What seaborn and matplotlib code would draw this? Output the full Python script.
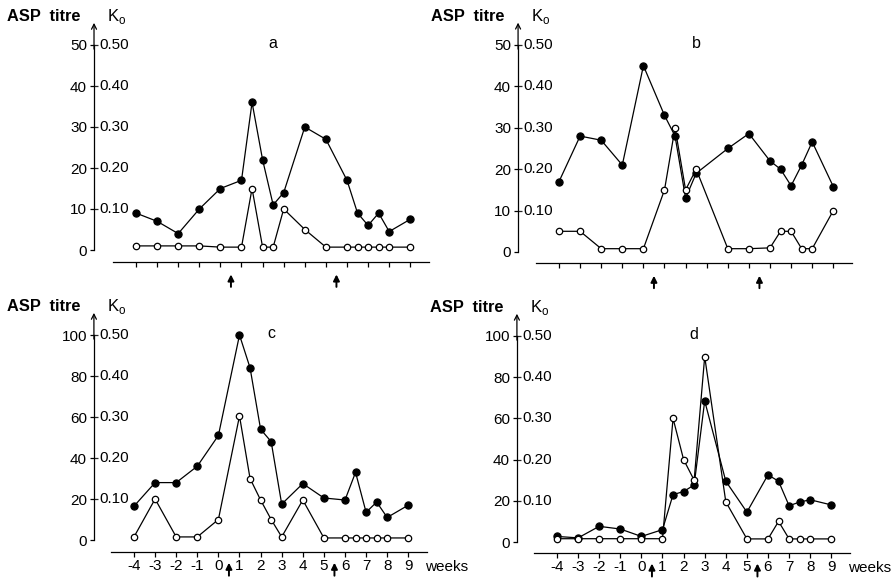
import numpy as np
import pandas as pd
import matplotlib
matplotlib.use("Agg")
import matplotlib.pyplot as plt
import seaborn as sns
from matplotlib.ticker import FixedLocator

sns.set_theme(style="white")
plt.rcParams['font.family'] = ['Liberation Sans', 'DejaVu Sans']
plt.rcParams['axes.unicode_minus'] = False
plt.rcParams['mathtext.fontset'] = 'custom'
plt.rcParams['mathtext.rm'] = 'Liberation Sans'

# ---------------- data ----------------
weeks_a = [-4, -3, -2, -1, 0, 1, 1.5, 2, 2.5, 3, 4, 5, 6, 6.5, 7, 7.5, 8, 9]
filled_a = [9, 7, 4, 10, 15, 17, 36, 22, 11, 14, 30, 27, 17, 9, 6, 9, 4.5, 7.5]
open_a = [1, 1, 1, 1, 0.7, 0.7, 15, 0.7, 0.7, 10, 5, 0.7, 0.7, 0.7, 0.7, 0.7, 0.7, 0.7]

weeks_b = [-4, -3, -2, -1, 0, 1, 1.5, 2, 2.5, 4, 5, 6, 6.5, 7, 7.5, 8, 9]
filled_b = [17, 28, 27, 21, 45, 33, 28, 13, 19, 25, 28.6, 22, 20, 16, 21, 26.6, 15.8]
open_b = [5, 5, 0.8, 0.8, 0.8, 15, 30, 15, 20, 0.8, 0.8, 1, 5, 5, 0.8, 0.8, 10]

weeks_c = [-4, -3, -2, -1, 0, 1, 1.5, 2, 2.5, 3, 4, 5, 6, 6.5, 7, 7.5, 8, 9]
filled_c = [16.5, 28, 28, 36, 51, 100, 84, 54, 48, 17.5, 27.5, 20.5, 19.5, 33, 13.5, 18.5, 11, 17]
open_c = [1.5, 20, 1.5, 1.5, 10, 60.5, 30, 19.5, 10, 1.5, 19.5, 1, 1, 1, 1, 1, 1, 1]

weeks_d = [-4, -3, -2, -1, 0, 1, 1.5, 2, 2.5, 3, 4, 5, 6, 6.5, 7, 7.5, 8, 9]
filled_d = [2.7, 2, 7.6, 6.3, 2.7, 6, 23, 24.5, 27.7, 68.5, 29.5, 14.5, 32.6, 29.5, 17.6, 19.4, 20.5, 18]
open_d = [1.6, 1.6, 1.6, 1.6, 1.6, 1.6, 60, 40, 30, 90, 19.5, 1.5, 1.5, 10, 1.5, 1.5, 1.5, 1.5]

titre_ticks_ab = [0, 10, 20, 30, 40, 50]
titre_ticks_cd = [0, 20, 40, 60, 80, 100]
ko_labels = ["0.10", "0.20", "0.30", "0.40", "0.50"]
week_ticks = [-4, -3, -2, -1, 0, 1, 2, 3, 4, 5, 6, 7, 8, 9]
week_labels = ["-4", "-3", "-2", "-1", "0", "1", "2", "3", "4", "5", "6", "7", "8", "9"]
arrow_weeks = [0.5, 5.5]
panel_names = ["a", "b", "c", "d"]

# ---------------- layout ----------------
W, H = 895, 582
fig = plt.figure(figsize=(W / 100, H / 100), dpi=100)
fig.patch.set_facecolor("white")
PPW = 21.1
FS = 10.5

def make_axes(x_m4, y0, ppu, ylim, xlim=(-7.0, 10.6)):
    left = x_m4 + PPW * (xlim[0] + 4)
    right = x_m4 + PPW * (xlim[1] + 4)
    bottom = y0 - ppu * ylim[0]
    top = y0 - ppu * ylim[1]
    ax = fig.add_axes([left / W, 1 - bottom / H, (right - left) / W, (bottom - top) / H])
    ax.set_xlim(*xlim)
    ax.set_ylim(*ylim)
    ax.set_facecolor("none")
    return ax

panels = [
    dict(x_m4=136, y0=250, ppu=4.1, top=50, ticks=titre_ticks_ab, weeks=weeks_a, f=filled_a, o=open_a,
         vx=-5.99, hy=-2.9, labels=False),
    dict(x_m4=559, y0=252, ppu=4.14, top=50, ticks=titre_ticks_ab, weeks=weeks_b, f=filled_b, o=open_b,
         vx=-5.94, hy=-2.7, labels=False),
    dict(x_m4=134, y0=540, ppu=2.05, top=100, ticks=titre_ticks_cd, weeks=weeks_c, f=filled_c, o=open_c,
         vx=-5.9, hy=-5.9, labels=True),
    dict(x_m4=557, y0=542, ppu=2.06, top=100, ticks=titre_ticks_cd, weeks=weeks_d, f=filled_d, o=open_d,
         vx=-5.9, hy=-5.3, labels=True),
]

for name, p in zip(panel_names, panels):
    top = p["top"]
    ax = make_axes(p["x_m4"], p["y0"], p["ppu"], ylim=(-0.36 * top, 1.22 * top))

    # series
    df_f = pd.DataFrame({"week": p["weeks"], "val": p["f"]})
    df_o = pd.DataFrame({"week": p["weeks"], "val": p["o"]})
    sns.lineplot(data=df_f, x="week", y="val", ax=ax, color="black", linewidth=0.9,
                 marker="o", markersize=5.2, markerfacecolor="black", markeredgecolor="black",
                 markeredgewidth=0.8, clip_on=False, zorder=3)
    sns.lineplot(data=df_o, x="week", y="val", ax=ax, color="black", linewidth=0.9,
                 marker="o", markersize=4.6, markerfacecolor="white", markeredgecolor="black",
                 markeredgewidth=0.9, clip_on=False, zorder=4)
    ax.set_xlabel("")
    ax.set_ylabel("")

    # spines
    for s in ["top", "right"]:
        ax.spines[s].set_visible(False)
    ax.spines["left"].set_position(("data", p["vx"]))
    ax.spines["left"].set_bounds(0, top)
    ax.spines["bottom"].set_position(("data", p["hy"]))
    ax.spines["bottom"].set_bounds(-5.1, 9.9)
    for s in ["left", "bottom"]:
        ax.spines[s].set_color("black")
        ax.spines[s].set_linewidth(0.9)

    # y ticks: titre labels left, crossing tick marks
    ax.set_yticks(p["ticks"])
    ax.set_yticklabels([str(t) for t in p["ticks"]])
    ax.yaxis.set_minor_locator(FixedLocator(p["ticks"][1:]))
    ax.yaxis.remove_overlapping_locs = False
    ax.tick_params(axis="y", which="major", direction="out", length=3, width=0.9, pad=2,
                   labelsize=FS + 0.5, colors="black", left=True)
    ax.tick_params(axis="y", which="minor", direction="in", length=3, width=0.9, left=True)

    # Ko labels to the right of the axis
    for t, lab in zip(p["ticks"][1:], ko_labels):
        ax.annotate(lab, xy=(p["vx"], t), xytext=(4, 0), textcoords="offset points",
                    ha="left", va="center", fontsize=FS + 0.5, color="black")

    # arrow at the top of the y axis
    ax.annotate("", xy=(p["vx"], top * 1.108), xytext=(p["vx"], top * 0.98),
                arrowprops=dict(arrowstyle="->", lw=0.9, color="black", shrinkA=0, shrinkB=0,
                                mutation_scale=9), annotation_clip=False)

    # axis headings
    ax.annotate("ASP  titre", xy=(p["vx"], top * 1.108), xytext=(-10, 4.5), textcoords="offset points",
                ha="right", va="center", fontsize=11.8, fontweight="bold", color="black",
                annotation_clip=False)
    ax.annotate("K$_\\mathrm{o}$", xy=(p["vx"], top * 1.108), xytext=(9.5, 4.5), textcoords="offset points",
                ha="left", va="center", fontsize=FS + 1.5, color="black", annotation_clip=False)

    # panel letter
    ax.text(2.5, top * 1.005, name, ha="center", va="center", fontsize=FS + 1, color="black")

    # x ticks
    ax.set_xticks(week_ticks)
    ax.tick_params(axis="x", direction="out", length=3.5, width=0.9, bottom=True, colors="black")
    if p["labels"]:
        ax.set_xticklabels(week_labels)
        ax.tick_params(axis="x", labelsize=FS + 0.5, pad=1.5)
        ax.annotate("weeks", xy=(9, p["hy"]), xytext=(12, -10.5), textcoords="offset points",
                    ha="left", va="center", fontsize=FS + 0.5, color="black", annotation_clip=False)
        arrow_off_top, arrow_off_bot = -5.5, -17.0
    else:
        ax.set_xticklabels([])
        arrow_off_top, arrow_off_bot = -6.5, -18
    for aw in arrow_weeks:
        ax.annotate("", xy=(aw, p["hy"]), xycoords="data",
                    xytext=(0, arrow_off_bot), textcoords="offset points",
                    arrowprops=dict(arrowstyle="-|>", lw=1.4, color="black", mutation_scale=9,
                                    shrinkA=0, shrinkB=-arrow_off_top * 1.39),
                    annotation_clip=False)
    ax.grid(False)

fig.savefig("out.png", dpi=100, facecolor="white")
